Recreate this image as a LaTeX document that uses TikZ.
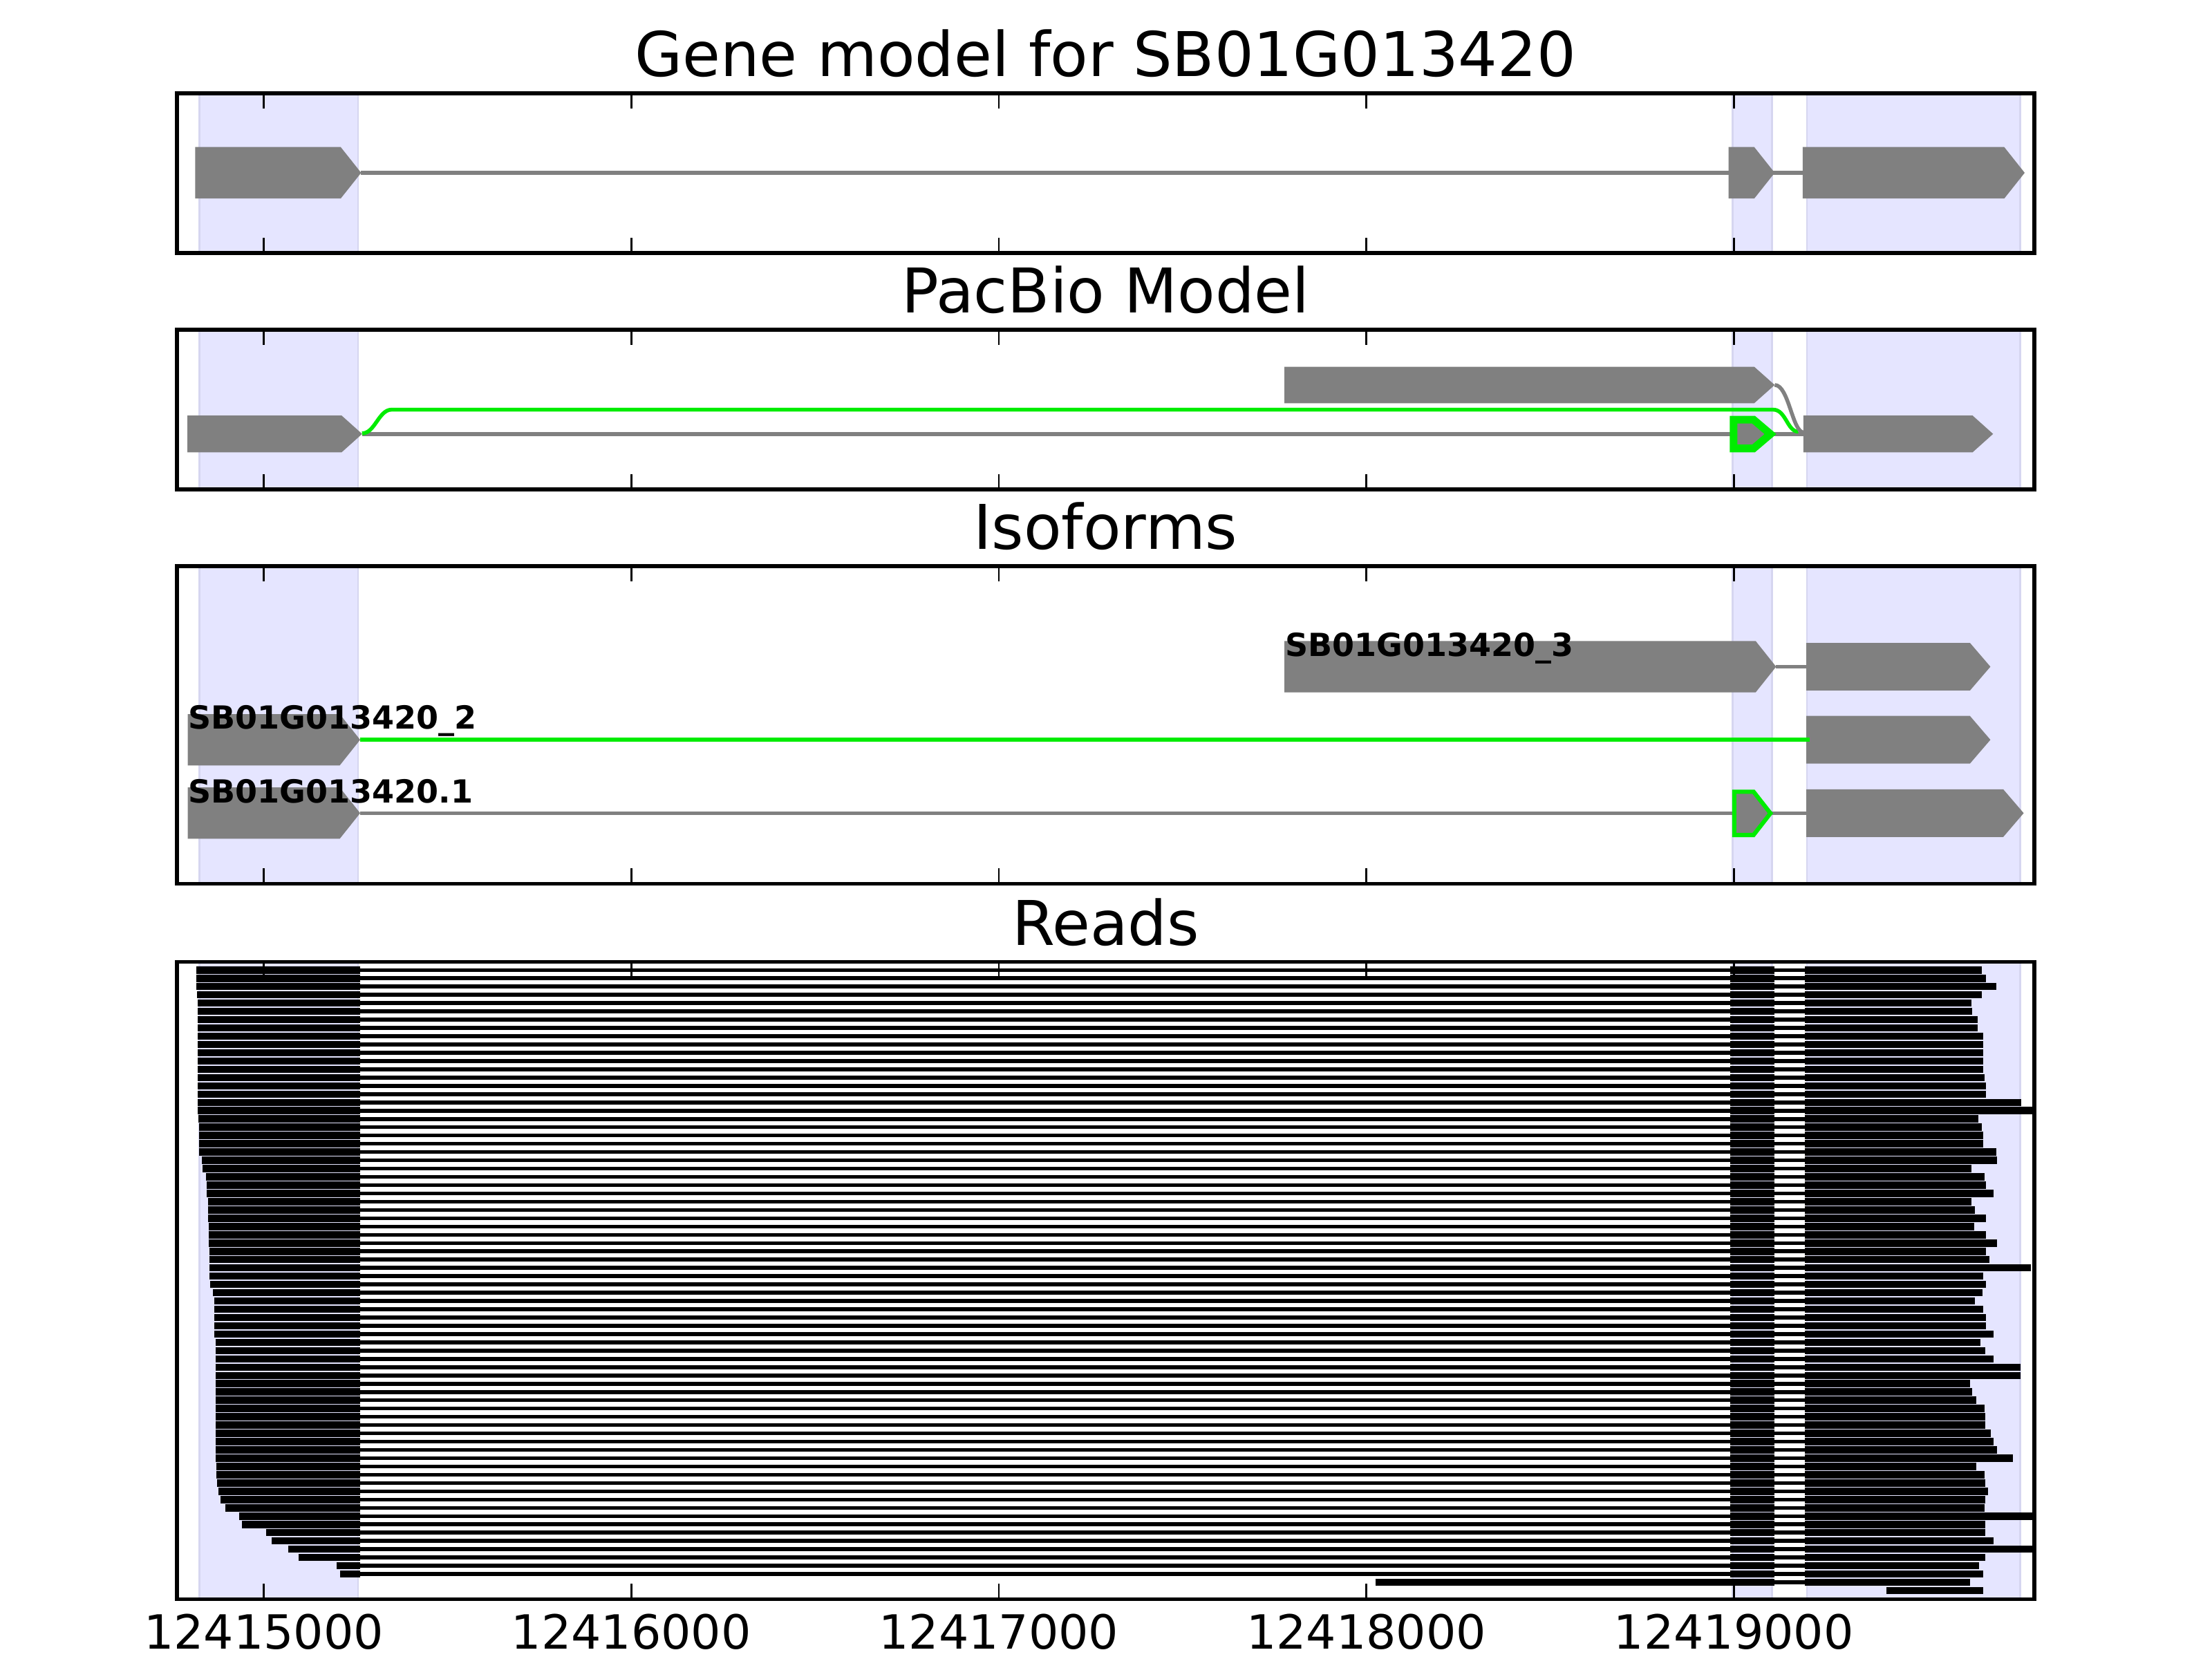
\documentclass[tikz,border=0pt]{standalone}
\usepackage{fontspec}
\setmainfont{DejaVu Sans}
\definecolor{exongray}{RGB}{128,128,128}
\definecolor{pbgreen}{RGB}{0,236,0}
\definecolor{spanfill}{RGB}{229,229,255}
\definecolor{spanedge}{RGB}{214,214,240}

% one exon drawn as an arrow: start, end, row, half height
\newcommand{\exon}[4]{\fill[exongray] (#1,#3-#4) -- (#2-14.5,#3-#4) -- (#2,#3) -- (#2-14.5,#3+#4) -- (#1,#3+#4) -- cycle;}
% shaded exon spans over a whole panel: top, bottom
\newcommand{\spans}[2]{\foreach \sa/\sb in {141.2/253.8,1228.3/1256,1280.8/1432}{\filldraw[span] (\sa,#1) rectangle (\sb,#2);}}
% inward ticks and frame of a panel: top, bottom
\newcommand{\frameticks}[2]{%
  \foreach \tx in {187,447.5,708,968.5,1229}{\draw[tick] (\tx,#1) -- ++(0,10.9); \draw[tick] (\tx,#2) -- ++(0,-10.9);}
  \draw[panel] (125.5,#1) rectangle (1442,#2);}

\begin{document}
\begin{tikzpicture}[
        x=0.00510204in, y=-0.00510204in,
        ttl/.style={font=\fontsize{16.1}{19}\selectfont, anchor=base, inner sep=0pt},
        ticklab/.style={font=\fontsize{12.3}{14}\selectfont, anchor=base, inner sep=0pt},
        isolab/.style={font=\fontsize{8.3}{10}\selectfont\bfseries, anchor=base west, inner sep=0pt},
        panel/.style={draw=black, line width=1pt},
        tick/.style={draw=black, line width=0.5pt},
        span/.style={fill=spanfill, draw=spanedge, line width=0.5pt},
        intron/.style={draw=exongray, line width=1pt},
        pbline/.style={draw=pbgreen, line width=1pt},
        readex/.style={draw=black, line width=1.9pt},
        readin/.style={draw=black, line width=1pt}
    ]
    \useasboundingbox (0,0) rectangle (1568,1176);

    % Gene model
    \node[ttl] (tgene) at (783.7,54.2) {Gene model for SB01G013420};
    \spans{66.2}{179.3}
    \draw[intron] (256,122.5) -- (1277.8,122.5);
    \exon{138.4}{256}{122.5}{18.25}
    \exon{1225.3}{1258}{122.5}{18.25}
    \exon{1277.8}{1435.2}{122.5}{18.25}
    \frameticks{66.2}{179.3}

    % PacBio model
    \node[ttl] (tpacbio) at (783.7,221.6) {PacBio Model};
    \spans{233.6}{346.8}
    \draw[intron] (256.7,307.6) -- (1278.3,307.6);
    \draw[pbline] (256.7,307.2) .. controls +(9,0) and +(-9,0) .. (277.5,290.4)
        -- (1257,290.4) .. controls +(9,0) and +(-8,0) .. (1274.8,306);
    \draw[intron] (1258,272.9) .. controls +(10,0) and +(-8,0) .. (1278.5,306.5);
    \exon{132.9}{256.7}{307.6}{13}
    \exon{910.5}{1258}{272.9}{12.9}
    \exon{1278.3}{1412.8}{307.6}{13}
    \filldraw[fill=exongray, draw=pbgreen, line width=2pt]
        (1228.8,297.5) -- (1243,297.5) -- (1255,307.7) -- (1243,317.9) -- (1228.8,317.9) -- cycle;
    \frameticks{233.6}{346.8}

    % Isoforms
    \node[ttl] (tiso) at (783.7,389.3) {Isoforms};
    \spans{401.3}{626.4}
    \draw[intron] (1259,472.6) -- (1280.4,472.6);
    \draw[intron] (255.3,576.4) -- (1280.4,576.4);
    \exon{910.5}{1259}{472.6}{18.2}
    \exon{1280.4}{1410.9}{472.6}{16.9}
    \exon{133.1}{255.3}{524.4}{18.2}
    \exon{1280.4}{1410.9}{524.4}{16.9}
    \draw[pbline] (255.3,524.4) -- (1282.6,524.4);
    \exon{133.1}{255.3}{576.4}{18.2}
    \exon{1280.4}{1434.5}{576.4}{16.9}
    \filldraw[fill=exongray, draw=pbgreen, line width=1.1pt]
        (1229.3,561.2) -- (1243,561.2) -- (1255,576.5) -- (1243,591.9) -- (1229.3,591.9) -- cycle;
    \node[isolab] (liso3) at (910.5,465.1) {SB01G013420\_3};
    \node[isolab] (liso2) at (133.1,516.9) {SB01G013420\_2};
    \node[isolab] (liso1) at (133.1,568.9) {SB01G013420.1};
    \frameticks{401.3}{626.4}

    % Reads
    \node[ttl] (treads) at (783.7,669.9) {Reads};
    \spans{681.9}{1133.5}
    \begin{scope}
        \clip (125.5,681.9) rectangle (1442,1133.5);
        \foreach \k/\rs/\re in {
            0/139.3/1404.7, 1/139.3/1407.9, 2/139.3/1415.0, 3/139.7/1404.7,
            4/140.0/1397.3, 5/140.0/1398.1, 6/140.0/1401.7, 7/140.0/1401.7,
            8/140.0/1406.0, 9/140.0/1406.0, 10/140.0/1406.0, 11/140.0/1406.0,
            12/140.0/1406.0, 13/140.0/1406.6, 14/140.0/1407.9, 15/140.0/1407.9,
            16/140.0/1432.9, 17/140.0/1450, 18/140.5/1402.2, 19/141.3/1405.0,
            20/141.3/1406.0, 21/141.3/1406.0, 22/141.3/1415.0, 23/142.9/1415.8,
            24/143.7/1397.3, 25/146.2/1406.6, 26/146.7/1407.9, 27/146.7/1413.3,
            28/147.3/1397.3, 29/147.3/1400.1, 30/147.5/1407.9, 31/147.8/1399.3,
            32/147.8/1407.9, 33/147.8/1415.8, 34/148.3/1407.9, 35/148.3/1410.4,
            36/148.3/1439.8, 37/148.6/1406.0, 38/149.0/1407.9, 39/150.8/1405.5,
            40/151.9/1400.1, 41/151.9/1406.0, 42/151.9/1407.5, 43/151.9/1407.5,
            44/151.9/1413.2, 45/152.7/1404.0, 46/152.7/1407.2, 47/152.7/1413.2,
            48/152.7/1432.0, 49/152.7/1432.0, 50/153.0/1396.7, 51/153.0/1398.0,
            52/153.0/1401.0, 53/153.0/1406.6, 54/153.0/1407.2, 55/153.0/1407.2,
            56/153.0/1411.2, 57/153.0/1413.2, 58/153.0/1415.8, 59/153.0/1427.0,
            60/153.2/1401.0, 61/153.5/1406.6, 62/154.0/1407.2, 63/154.8/1409.2,
            64/156.5/1407.2, 65/159.6/1406.6, 66/169.5/1450, 67/171.5/1407.2,
            68/188.7/1407.2, 69/192.7/1413.2, 70/204.5/1450, 71/211.5/1407.2,
            72/238.5/1402.6, 73/241.2/1405.6}{
            \pgfmathsetmacro\ry{687.6+5.865*\k}
            \draw[readin] (255.3,\ry) -- (1226.6,\ry) (1257.7,\ry) -- (1279.4,\ry);
            \draw[readex] (\rs,\ry) -- (255.3,\ry) (1226.6,\ry) -- (1257.7,\ry) (1279.4,\ry) -- (\re,\ry);
        }
        % two short reads at the bottom
        \draw[readin] (1257.7,1121.6) -- (1279.4,1121.6);
        \draw[readex] (974.9,1121.6) -- (1257.7,1121.6) (1279.4,1121.6) -- (1396.7,1121.6);
        \draw[readex] (1337.3,1127.5) -- (1405.6,1127.5);
    \end{scope}
    \frameticks{681.9}{1133.5}

    % Tick labels
    \node[ticklab] (x0) at (187,1169) {12415000};
    \node[ticklab] (x1) at (447.5,1169) {12416000};
    \node[ticklab] (x2) at (708,1169) {12417000};
    \node[ticklab] (x3) at (968.5,1169) {12418000};
    \node[ticklab] (x4) at (1229,1169) {12419000};

\end{tikzpicture}
\end{document}
